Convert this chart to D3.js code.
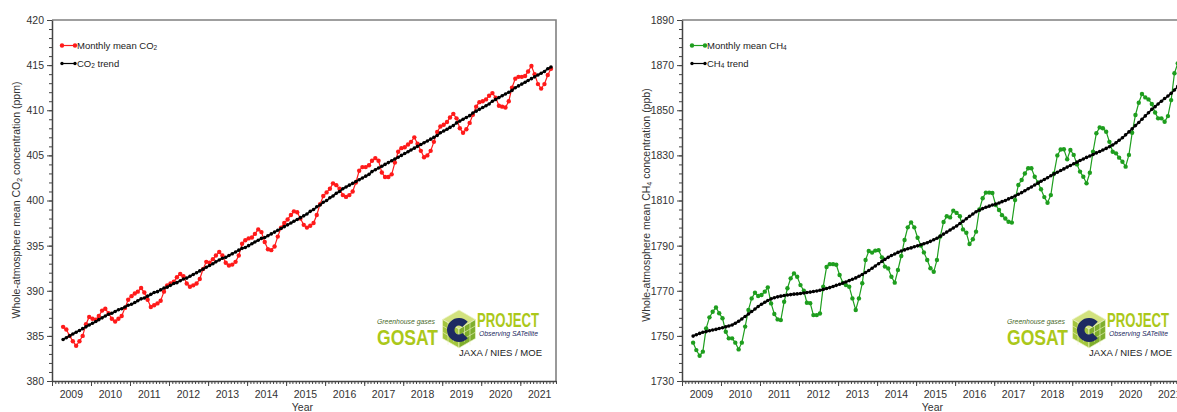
<!DOCTYPE html>
<html>
<head>
<meta charset="utf-8">
<script src="https://cdn.jsdelivr.net/npm/d3@7"></script>
<style>
  body { margin: 0; background: #fff; }
  svg { display: block; font-family: "Liberation Sans", Arial, sans-serif; }
</style>
</head>
<body>
<svg id="chart"></svg>
<script>
// first month of both series (year, month) — one value per month after that
const firstMonth = [2009, 4]
const yearLabels = [2009, 2010, 2011, 2012, 2013, 2014, 2015, 2016, 2017, 2018, 2019, 2020, 2021]

const co2Ticks = [380, 385, 390, 395, 400, 405, 410, 415, 420]
const ch4Ticks = [1730, 1750, 1770, 1790, 1810, 1830, 1850, 1870, 1890]

// monthly mean CO2 (ppm), Apr 2009 - Oct 2021
const co2Monthly = [
  386.0, 385.7, 385.0, 384.4, 383.9, 384.4, 385.0, 386.3, 387.1,
  386.9, 386.8, 387.2, 387.8, 388.0, 387.5, 386.9, 386.6, 386.9, 387.2, 388.1, 389.0,
  389.4, 389.7, 389.9, 390.3, 389.8, 389.0, 388.2, 388.4, 388.6, 388.9, 389.9, 390.6,
  390.8, 391.0, 391.5, 391.85, 391.6, 390.8, 390.45, 390.6, 390.8, 391.3, 392.4, 393.2,
  393.1, 393.5, 393.9, 394.3, 393.9, 393.1, 392.8, 392.9, 393.2, 393.9, 395.2, 395.6,
  395.8, 395.9, 396.3, 396.8, 396.5, 395.4, 394.6, 394.5, 394.9, 396.0, 397.0, 397.5,
  397.9, 398.4, 398.8, 398.7, 398.0, 397.3, 397.0, 397.2, 397.5, 398.4, 399.6, 400.5,
  400.9, 401.3, 401.9, 401.7, 401.3, 400.6, 400.4, 400.6, 401.0, 402.0, 403.3, 403.7,
  403.7, 403.9, 404.4, 404.7, 404.4, 403.1, 402.6, 402.6, 402.9, 404.2, 405.4, 405.8,
  405.9, 406.2, 406.5, 407.0, 406.3, 405.5, 404.8, 405.0, 405.5, 406.5, 407.6, 408.2,
  408.4, 408.7, 409.2, 409.6, 409.1, 408.0, 407.5, 407.9, 408.6, 409.5, 410.4, 410.9,
  411.0, 411.2, 411.6, 411.9, 411.4, 410.5, 410.4, 410.3, 411.0, 412.5, 413.5, 413.7,
  413.7, 413.8, 414.3, 414.9, 414.0, 412.9, 412.4, 412.9, 413.9, 414.6
]

// CO2 trend (ppm)
const co2Trend = [
  384.6, 384.8, 385.0, 385.2, 385.4, 385.6, 385.8, 386.0, 386.2,
  386.4, 386.6, 386.8, 387.0, 387.2, 387.4, 387.5, 387.7, 387.9, 388.0, 388.2, 388.4,
  388.5, 388.7, 388.9, 389.1, 389.2, 389.4, 389.6, 389.8, 389.9, 390.1, 390.3, 390.4,
  390.6, 390.8, 390.9, 391.1, 391.3, 391.4, 391.6, 391.8, 392.0, 392.2, 392.4, 392.6,
  392.8, 393.0, 393.2, 393.4, 393.6, 393.7, 393.9, 394.1, 394.3, 394.5, 394.7, 394.8,
  395.0, 395.2, 395.4, 395.6, 395.8, 395.9, 396.1, 396.3, 396.5, 396.7, 396.9, 397.1,
  397.3, 397.5, 397.7, 397.9, 398.1, 398.3, 398.5, 398.8, 399.0, 399.3, 399.5, 399.8,
  400.0, 400.3, 400.5, 400.8, 401.0, 401.3, 401.5, 401.7, 401.9, 402.1, 402.3, 402.5,
  402.7, 402.9, 403.2, 403.4, 403.6, 403.8, 404.0, 404.2, 404.4, 404.6, 404.8, 405.0,
  405.2, 405.4, 405.6, 405.8, 406.0, 406.2, 406.4, 406.6, 406.8, 407.0, 407.2, 407.5,
  407.7, 407.9, 408.1, 408.3, 408.6, 408.8, 409.0, 409.2, 409.4, 409.7, 409.9, 410.1,
  410.3, 410.5, 410.7, 411.0, 411.2, 411.4, 411.6, 411.8, 412.0, 412.2, 412.5, 412.7,
  412.9, 413.1, 413.3, 413.5, 413.7, 413.9, 414.1, 414.3, 414.6, 414.8
]

// monthly mean CH4 (ppb), Apr 2009 - Oct 2021
const ch4Monthly = [
  1747.0, 1743.7, 1741.2, 1743.0, 1753.3, 1758.2, 1760.7, 1762.6, 1760.0,
  1757.8, 1751.8, 1748.9, 1748.9, 1747.0, 1744.0, 1747.0, 1754.1, 1761.5, 1766.6, 1769.1, 1767.7,
  1768.1, 1769.6, 1771.5, 1764.4, 1759.7, 1757.3, 1757.0, 1765.1, 1771.1, 1775.5, 1777.7, 1776.2,
  1772.5, 1770.0, 1764.7, 1764.5, 1759.2, 1759.2, 1759.9, 1771.8, 1780.5, 1781.8, 1781.8, 1781.5,
  1777.0, 1773.5, 1772.5, 1771.8, 1766.6, 1761.5, 1766.6, 1773.3, 1783.6, 1787.6, 1786.9, 1787.8,
  1788.0, 1784.8, 1780.7, 1779.9, 1776.2, 1773.6, 1779.2, 1785.4, 1792.5, 1798.1, 1800.3, 1798.1,
  1793.5, 1790.0, 1787.0, 1783.6, 1780.0, 1778.4, 1783.6, 1794.0, 1800.5, 1803.0, 1802.5, 1805.5,
  1804.5, 1803.0, 1797.2, 1795.7, 1790.7, 1792.8, 1796.2, 1806.0, 1811.0, 1813.5, 1813.5, 1813.3,
  1808.0, 1805.8, 1803.5, 1802.0, 1800.6, 1800.2, 1810.2, 1816.9, 1819.1, 1822.0, 1824.3, 1824.3,
  1820.5, 1818.0, 1815.0, 1811.5, 1809.0, 1812.4, 1822.0, 1830.0, 1832.6, 1832.7, 1828.3, 1832.4,
  1830.2, 1826.0, 1822.8, 1820.5, 1817.6, 1822.3, 1831.6, 1839.8, 1842.4, 1842.0, 1840.5, 1836.0,
  1831.6, 1830.9, 1829.0, 1827.2, 1825.0, 1830.2, 1840.0, 1847.9, 1853.3, 1857.2, 1855.7, 1854.8,
  1852.8, 1849.0, 1846.4, 1846.4, 1844.9, 1847.4, 1854.5, 1866.4, 1870.8, 1876.0
]

// CH4 trend (ppb)
const ch4Trend = [
  1749.9, 1750.5, 1751.1, 1751.6, 1751.9, 1752.3, 1752.6, 1752.9, 1753.3,
  1753.6, 1754.0, 1754.4, 1754.8, 1755.6, 1756.5, 1757.5, 1758.6, 1759.7, 1760.8, 1761.9, 1763.0,
  1764.0, 1764.9, 1765.7, 1766.4, 1766.9, 1767.3, 1767.6, 1767.9, 1768.1, 1768.3, 1768.5, 1768.6,
  1768.8, 1769.0, 1769.2, 1769.4, 1769.7, 1769.9, 1770.2, 1770.6, 1771.0, 1771.4, 1771.9, 1772.4,
  1772.9, 1773.4, 1773.9, 1774.5, 1775.1, 1775.7, 1776.4, 1777.2, 1778.1, 1779.0, 1780.0, 1781.0,
  1782.0, 1783.0, 1783.9, 1784.8, 1785.6, 1786.3, 1787.0, 1787.6, 1788.1, 1788.6, 1789.0, 1789.5,
  1789.9, 1790.4, 1790.8, 1791.3, 1791.9, 1792.6, 1793.3, 1794.2, 1795.1, 1796.0, 1796.9, 1797.8,
  1798.7, 1799.8, 1800.8, 1801.9, 1803.0, 1804.0, 1805.0, 1805.7, 1806.4, 1807.0, 1807.5, 1808.0,
  1808.4, 1808.9, 1809.5, 1810.0, 1810.7, 1811.3, 1812.0, 1812.8, 1813.5, 1814.3, 1815.2, 1816.0,
  1816.9, 1817.7, 1818.5, 1819.3, 1820.1, 1821.0, 1821.8, 1822.5, 1823.3, 1824.0, 1824.8, 1825.5,
  1826.3, 1827.0, 1827.7, 1828.4, 1829.1, 1829.7, 1830.4, 1831.1, 1831.7, 1832.4, 1833.1, 1833.8,
  1834.6, 1835.6, 1836.7, 1837.8, 1839.1, 1840.4, 1841.8, 1843.2, 1844.6, 1846.0, 1847.5, 1848.9,
  1850.4, 1851.6, 1852.8, 1854.0, 1855.2, 1856.3, 1857.5, 1859.0, 1860.5, 1862.0
]

const W = 1177, H = 412
const svg = d3.select('#chart')
              .attr('width', W)
              .attr('height', H)

svg.append('rect').attr('width', W).attr('height', H).attr('fill', '#fff')

// month i after the first month, placed mid-month
const monthDate = i => new Date(firstMonth[0], firstMonth[1] - 1 + i, 15)

function drawPanel(ox, cfg) {
  const left = ox + 52, right = ox + 556, top = 20, bottom = 381
  const g = svg.append('g')

  const x = d3.scaleTime()
              .domain([new Date(2009, 0, 1), new Date(2021, 11, 1)])
              .range([left, right])
  const y = d3.scaleLinear()
              .domain(cfg.domain)
              .range([bottom, top])

  // frame (top and right sides)
  g.append('path')
    .attr('d', `M${left},${top}H${right}V${bottom}`)
    .attr('fill', 'none')
    .attr('stroke', '#808080')
    .attr('stroke-width', 1.6)

  // y axis: minor then major
  g.append('g')
    .attr('transform', `translate(${left},0)`)
    .call(d3.axisLeft(y).tickValues(d3.range(cfg.domain[0], cfg.domain[1] + 0.001, cfg.minor)).tickSize(3).tickFormat(''))
    .call(a => a.select('.domain').remove())
  const yAx = g.append('g')
    .attr('transform', `translate(${left},0)`)
    .call(d3.axisLeft(y).tickValues(cfg.ticks).tickSize(5).tickSizeOuter(0).tickPadding(3).tickFormat(d3.format('d')))
  yAx.selectAll('text').attr('font-size', 10.5).attr('fill', '#333')
  yAx.select('.domain').attr('stroke', '#444').attr('stroke-width', 1.5)

  // x axis: monthly minor ticks, yearly major ticks, labels at mid-year
  g.append('g')
    .attr('transform', `translate(0,${bottom})`)
    .call(d3.axisBottom(x).tickValues(d3.timeMonth.range(new Date(2009, 0, 1), new Date(2021, 11, 2))).tickSize(3).tickFormat(''))
    .call(a => a.select('.domain').remove())
  const xAx = g.append('g')
    .attr('transform', `translate(0,${bottom})`)
    .call(d3.axisBottom(x).tickValues(d3.timeYear.range(new Date(2009, 0, 1), new Date(2022, 0, 1))).tickSize(5).tickSizeOuter(0).tickFormat(''))
  xAx.select('.domain').attr('stroke', '#444').attr('stroke-width', 1.5)
  g.selectAll('.tick line').attr('stroke', '#444')

  g.selectAll('.yearLabel')
    .data(yearLabels)
    .join('text')
      .attr('x', d => x(new Date(d, 6, 1)))
      .attr('y', 398)
      .attr('text-anchor', 'middle')
      .attr('font-size', 10.5)
      .attr('fill', '#333')
      .text(d => d)

  g.append('text')
    .attr('x', x(new Date(2015, 6, 1)) - 3)
    .attr('y', 411)
    .attr('text-anchor', 'middle')
    .attr('font-size', 10.5)
    .attr('fill', '#333')
    .text('Year')

  // y title with subscript
  const yt = g.append('text')
    .attr('transform', `translate(${ox + 20},${cfg.titleY}) rotate(-90)`)
    .attr('text-anchor', 'middle')
    .attr('font-size', 10.5)
    .attr('fill', '#333')
  yt.append('tspan').text('Whole-atmosphere mean ' + cfg.gas)
  yt.append('tspan').attr('font-size', 7).attr('dy', 2).text(cfg.sub)
  yt.append('tspan').attr('dy', -2).text(' concentration (' + cfg.unit + ')')

  const monthly = cfg.monthly.map((v, i) => ({ date: monthDate(i), v }))
  const trend = cfg.trend.map((v, i) => ({ date: monthDate(i), v }))
  const line = d3.line().x(d => x(d.date)).y(d => y(d.v))

  g.append('path')
    .datum(monthly)
    .attr('d', line)
    .attr('fill', 'none')
    .attr('stroke', cfg.color)
    .attr('stroke-width', 1.2)
  g.selectAll('.mm')
    .data(monthly)
    .join('circle')
      .attr('cx', d => x(d.date))
      .attr('cy', d => y(d.v))
      .attr('r', 2.2)
      .attr('fill', cfg.color)

  g.append('path')
    .datum(trend)
    .attr('d', line)
    .attr('fill', 'none')
    .attr('stroke', '#000')
    .attr('stroke-width', 1.6)
  g.selectAll('.tr')
    .data(trend)
    .join('circle')
      .attr('cx', d => x(d.date))
      .attr('cy', d => y(d.v))
      .attr('r', 1.8)
      .attr('fill', '#000')

  // legend
  const legendY = [45.5, 63.5]
  legendY.forEach((ly, i) => {
    const col = i ? '#000' : cfg.color
    const lg = g.append('g')
    lg.append('line')
      .attr('x1', left + 10).attr('x2', left + 23)
      .attr('y1', ly).attr('y2', ly)
      .attr('stroke', col).attr('stroke-width', 1.2)
    ;[left + 10, left + 23].forEach(cx => {
      lg.append('circle').attr('cx', cx).attr('cy', ly).attr('r', i ? 1.7 : 2.2).attr('fill', col)
    })
    const t = lg.append('text')
      .attr('x', left + 25)
      .attr('y', ly + 3.5)
      .attr('font-size', 9.5)
      .attr('fill', '#222')
    if (i === 0) {
      t.append('tspan').text('Monthly mean ' + cfg.gas)
      t.append('tspan').attr('font-size', 6.5).attr('dy', 1).text(cfg.sub)
    } else {
      t.append('tspan').text(cfg.gas)
      t.append('tspan').attr('font-size', 6.5).attr('dy', 1).text(cfg.sub)
      t.append('tspan').attr('dy', -1).text(' trend')
    }
  })

  drawLogo(g, ox)
}

function drawLogo(g, ox) {
  const lime = '#abc81a', navy = '#1d2a62'
  const lg = g.append('g')
  lg.append('text')
    .attr('x', ox + 377).attr('y', 324)
    .attr('font-size', 7).attr('font-style', 'italic')
    .attr('fill', '#4a6a2a')
    .attr('textLength', 58).attr('lengthAdjust', 'spacingAndGlyphs')
    .text('Greenhouse gases')
  lg.append('text')
    .attr('x', ox + 377).attr('y', 345)
    .attr('font-size', 22).attr('font-weight', 'bold')
    .attr('fill', lime)
    .attr('textLength', 61).attr('lengthAdjust', 'spacingAndGlyphs')
    .text('GOSAT')
  lg.append('text')
    .attr('x', ox + 477).attr('y', 327)
    .attr('font-size', 20).attr('font-weight', 'bold')
    .attr('fill', lime)
    .attr('textLength', 62).attr('lengthAdjust', 'spacingAndGlyphs')
    .text('PROJECT')
  lg.append('text')
    .attr('x', ox + 479).attr('y', 336)
    .attr('font-size', 6.5).attr('font-style', 'italic')
    .attr('fill', navy)
    .attr('textLength', 59).attr('lengthAdjust', 'spacingAndGlyphs')
    .text('Observing SATellite')

  // cube emblem: three faces, block grid and a navy "C"
  const cx = ox + 459, cy = 329, r = 19
  const hx = r * Math.cos(Math.PI / 6), hy = r / 2
  const faces = [
    { d: `M${cx},${cy - r}L${cx + hx},${cy - hy}L${cx},${cy}L${cx - hx},${cy - hy}Z`, fill: '#d2e27e' },
    { d: `M${cx - hx},${cy - hy}L${cx},${cy}L${cx},${cy + r}L${cx - hx},${cy + hy}Z`, fill: '#a3c63e' },
    { d: `M${cx + hx},${cy - hy}L${cx},${cy}L${cx},${cy + r}L${cx + hx},${cy + hy}Z`, fill: '#7fae2c' }
  ]
  faces.forEach(f => lg.append('path').attr('d', f.d).attr('fill', f.fill).attr('stroke', '#eef4c8').attr('stroke-width', 0.7))
  ;[1 / 3, 2 / 3].forEach(t => {
    lg.append('path')
      .attr('d', `M${cx - hx},${cy - hy + r * t}L${cx},${cy + r * t}L${cx + hx},${cy - hy + r * t}` +
                 `M${cx - hx * (1 - t)},${cy - hy * (1 - t) - hy * 0}V${cy + r - hy * t}` +
                 `M${cx + hx * (1 - t)},${cy - hy * (1 - t)}V${cy + r - hy * t}`)
      .attr('fill', 'none').attr('stroke', '#eef4c8').attr('stroke-width', 0.6)
  })
  lg.append('path')
    .attr('d', d3.arc()({ innerRadius: 4.5, outerRadius: 12, startAngle: Math.PI / 2 + 0.75, endAngle: Math.PI * 2.5 - 0.75 }))
    .attr('transform', `translate(${cx},${cy + 1})`)
    .attr('fill', navy)

  lg.append('text')
    .attr('x', ox + 542).attr('y', 356)
    .attr('text-anchor', 'end')
    .attr('font-size', 9.5)
    .attr('fill', '#222')
    .text('JAXA / NIES / MOE')
}

drawPanel(0, {
  domain: [380, 420], ticks: co2Ticks, minor: 1,
  monthly: co2Monthly, trend: co2Trend, color: '#ff1a1a',
  gas: 'CO', sub: '2', unit: 'ppm', titleY: 200
})
drawPanel(630, {
  domain: [1730, 1890], ticks: ch4Ticks, minor: 4,
  monthly: ch4Monthly, trend: ch4Trend, color: '#1e9e1e',
  gas: 'CH', sub: '4', unit: 'ppb', titleY: 205
})
</script>
</body>
</html>
